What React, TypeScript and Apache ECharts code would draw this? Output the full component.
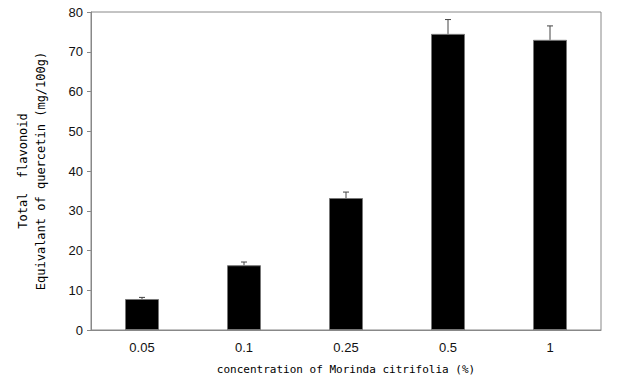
import React, { useEffect, useRef } from "react";
import * as echarts from "echarts";

const categories = ["0.05", "0.1", "0.25", "0.5", "1"];
const values = [7.8, 16.3, 33.2, 74.5, 73.0];
const errors = [0.4, 0.8, 1.5, 3.6, 3.5];
const yTicks = [0, 10, 20, 30, 40, 50, 60, 70, 80];

export default function App() {
  const ref = useRef<HTMLDivElement>(null);
  useEffect(() => {
    const chart = echarts.init(ref.current!, null, { renderer: "svg" });
    chart.setOption({
      animation: false,
      backgroundColor: "#fff",
      grid: {
        left: 91,
        right: 16,
        top: 12,
        bottom: 53,
        show: true,
        borderColor: "#888",
        borderWidth: 1,
      },
      xAxis: {
        type: "category",
        data: categories,
        name: "concentration of Morinda citrifolia (%)",
        nameLocation: "middle",
        nameGap: 34,
        nameTextStyle: { fontFamily: "DejaVu Sans Mono", fontSize: 11, color: "#000" },
        axisLine: { lineStyle: { color: "#888" } },
        axisTick: { show: false },
        axisLabel: { fontFamily: "Liberation Sans", fontSize: 13, color: "#111", margin: 11 },
      },
      yAxis: {
        type: "value",
        min: yTicks[0],
        max: yTicks[yTicks.length - 1],
        interval: 10,
        name: "Total  flavonoid\nEquivalant of quercetin (mg/100g)",
        nameLocation: "middle",
        nameGap: 41,
        nameRotate: 90,
        nameTextStyle: { fontFamily: "DejaVu Sans Mono", fontSize: 12, color: "#000", lineHeight: 18 },
        axisLine: { show: true, lineStyle: { color: "#888" } },
        axisTick: { show: true, length: 4, lineStyle: { color: "#888" } },
        splitLine: { show: false },
        axisLabel: { fontFamily: "Liberation Sans", fontSize: 13, color: "#111", margin: 8 },
      },
      series: [
        {
          type: "bar",
          data: values,
          barWidth: 34,
          itemStyle: { color: "#000", borderColor: "#777", borderWidth: 1 },
        },
        {
          type: "custom",
          data: values.map((v, i) => [i, v, v + errors[i]]),
          z: 10,
          renderItem: (params: any, api: any) => {
            const x = api.value(0);
            const p0 = api.coord([x, api.value(1)]);
            const p1 = api.coord([x, api.value(2)]);
            const style = { stroke: "#444", lineWidth: 1 };
            return {
              type: "group",
              children: [
                { type: "line", shape: { x1: p0[0], y1: p0[1], x2: p1[0], y2: p1[1] }, style },
                { type: "line", shape: { x1: p1[0] - 3, y1: p1[1], x2: p1[0] + 3, y2: p1[1] }, style },
              ],
            };
          },
        },
      ],
    });
    return () => chart.dispose();
  }, []);
  return (
    <div
      ref={ref}
      style={{ position: "absolute", left: 0, top: 0, width: 617, height: 383 }}
    />
  );
}
